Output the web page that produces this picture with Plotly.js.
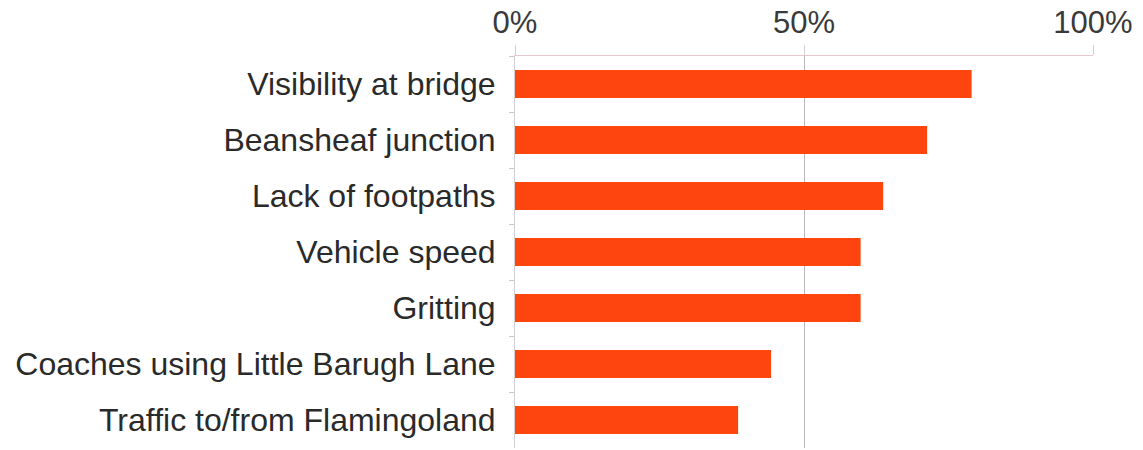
<!DOCTYPE html>
<html><head><meta charset="utf-8">
<script src="https://cdn.plot.ly/plotly-3.0.1.min.js"></script>
<style>html,body{margin:0;padding:0;background:#fff}#chart{width:1143px;height:450px}</style>
</head><body><div id="chart"></div>
<script>
const categories = ["Visibility at bridge","Beansheaf junction","Lack of footpaths","Vehicle speed","Gritting","Coaches using Little Barugh Lane","Traffic to/from Flamingoland"];
const values = [79, 71.3, 63.7, 59.8, 59.8, 44.3, 38.6];
const tickVals = [0, 50, 100];
const tickText = ["0%", "50%", "100%"];

Plotly.newPlot('chart', [{
  type: 'bar', orientation: 'h',
  x: values, y: categories,
  marker: {color: '#FF450F'},
  hoverinfo: 'none'
}], {
  width: 1143, height: 450,
  margin: {l: 515, r: 50, t: 56, b: 2, pad: 0},
  paper_bgcolor: '#fff', plot_bgcolor: '#fff',
  bargap: 0.5,
  showlegend: false,
  font: {family: '"Liberation Sans", Arial, sans-serif', color: '#333'},
  xaxis: {
    side: 'top', range: [0, 100], tickvals: tickVals, ticktext: tickText,
    showgrid: true, gridcolor: '#b8b8b8', gridwidth: 1,
    zeroline: false, showline: true, linecolor: '#e8c8cc', linewidth: 1,
    ticks: 'outside', ticklen: 10, tickcolor: '#d0d0d8',
    tickfont: {size: 31, color: '#3a3a3a'}, ticklabelstandoff: 0, fixedrange: true
  },
  yaxis: {
    autorange: 'reversed', type: 'category',
    showline: true, linecolor: '#d0d0d0', linewidth: 1,
    ticks: 'outside', tickson: 'boundaries', ticklen: 5, tickcolor: '#c8c8d8',
    showgrid: false, zeroline: false,
    tickfont: {size: 32, color: '#2a2a2a'}, ticklabelstandoff: 12, fixedrange: true
  }
}, {displayModeBar: false, staticPlot: true});
</script></body></html>
